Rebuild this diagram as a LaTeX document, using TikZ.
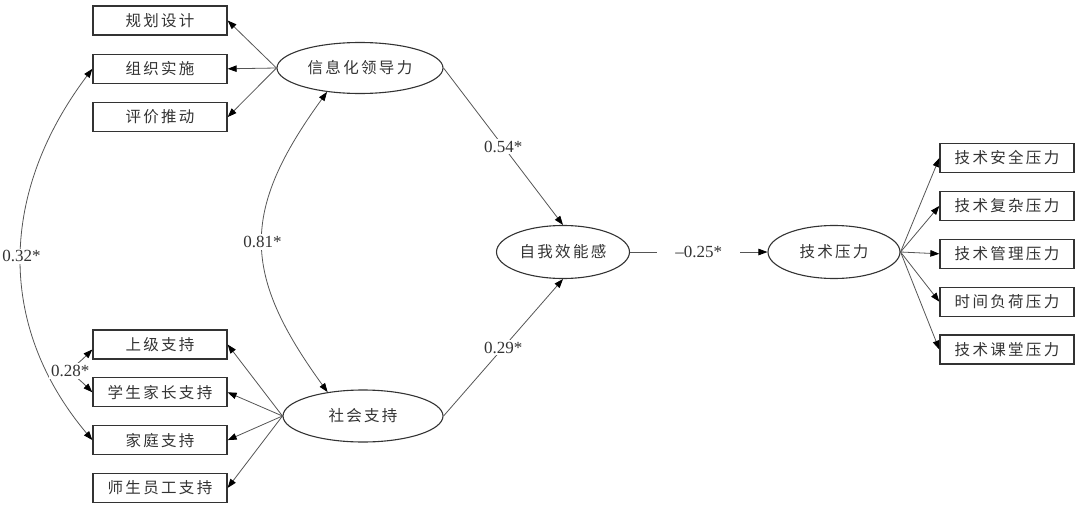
\documentclass[tikz,border=0pt]{standalone}
\usepackage{fontspec}
\setmainfont{Liberation Serif}
\newfontfamily\cjk[LetterSpace=15]{Noto Sans CJK SC}
\usetikzlibrary{positioning,arrows.meta,shapes.geometric}
\definecolor{ink}{HTML}{333333}
\definecolor{wire}{HTML}{555555}
\tikzset{
  box/.style={draw=ink, line width=1.3pt, minimum width=134pt, minimum height=29pt,
    inner sep=0pt, text=ink, font=\cjk\fontsize{15.5pt}{18pt}\selectfont},
  ell/.style={ellipse, draw=ink, line width=1.1pt, inner sep=0pt, text=ink,
    font=\cjk\fontsize{15.5pt}{18pt}\selectfont},
  arr/.style={-{Triangle[length=9pt,width=6.5pt,color=black]}, line width=0.8pt, color=wire},
  dbl/.style={{Triangle[length=9pt,width=6.5pt,color=black]}-{Triangle[length=9pt,width=6.5pt,color=black]},
    line width=0.8pt, color=wire},
  lab/.style={font=\fontsize{17pt}{19pt}\selectfont, text=ink, fill=white, inner sep=2pt},
}
\begin{document}
\begin{tikzpicture}[x=1pt, y=1pt]
    \useasboundingbox (0,0) rectangle (1080,-506);
    % 潜变量
    \node[ell, minimum width=166pt, minimum height=51pt] (lead) at (360,-68) {信息化领导力};
    \node[ell, minimum width=160pt, minimum height=52pt] (soc) at (363,-416) {社会支持};
    \node[ell, minimum width=133pt, minimum height=53pt] (self) at (563,-252) {自我效能感};
    \node[ell, minimum width=132pt, minimum height=53pt] (stress) at (834,-252) {技术压力};
    % 观测指标
    \node[box] (plan) at (160,-20.5) {规划设计};
    \node[box, below=18pt of plan] (org) {组织实施};
    \node[box, below=18pt of org] (eval) {评价推动};
    \node[box] (sup) at (160,-344.5) {上级支持};
    \node[box, below=17.5pt of sup] (par) {学生家长支持};
    \node[box, below=17.5pt of par] (fam) {家庭支持};
    \node[box, below=17.5pt of fam] (staff) {师生员工支持};
    \node[box] (sec) at (1007,-158) {技术安全压力};
    \node[box, below=17.6pt of sec] (cpx) {技术复杂压力};
    \node[box, below=17.6pt of cpx] (mgt) {技术管理压力};
    \node[box, below=17.6pt of mgt] (load) {时间负荷压力};
    \node[box, below=17.6pt of load] (cls) {技术课堂压力};
    \foreach \b in {plan,org,eval} \draw[arr] (lead.west) -- (\b.east);
    \foreach \b in {sup,par,fam,staff} \draw[arr] (soc.west) -- (\b.east);
    \foreach \b in {sec,cpx,mgt,load,cls} \draw[arr] (stress.east) -- (\b.west);
    % 路径系数
    \draw[arr] (lead.east) -- node[lab] {0.54*} (self.north);
    \draw[arr] (soc.east) -- node[lab] {0.29*} (self.south);
    \draw[arr] (self.east) -- node[lab, inner xsep=18pt] {–0.25*} (stress.west);
    % 相关
    \draw[dbl] (lead.216) to[out=234, in=126, looseness=1.25] node[lab] {0.81*} (soc.146);
    \draw[dbl] (org.west) to[out=233, in=130, looseness=1.05] node[lab] {0.32*} (fam.west);
    \draw[dbl] ([yshift=-5pt]sup.west) to[out=225, in=135, looseness=2.5] node[lab] {0.28*} (par.west);
  \end{tikzpicture}
\end{document}
